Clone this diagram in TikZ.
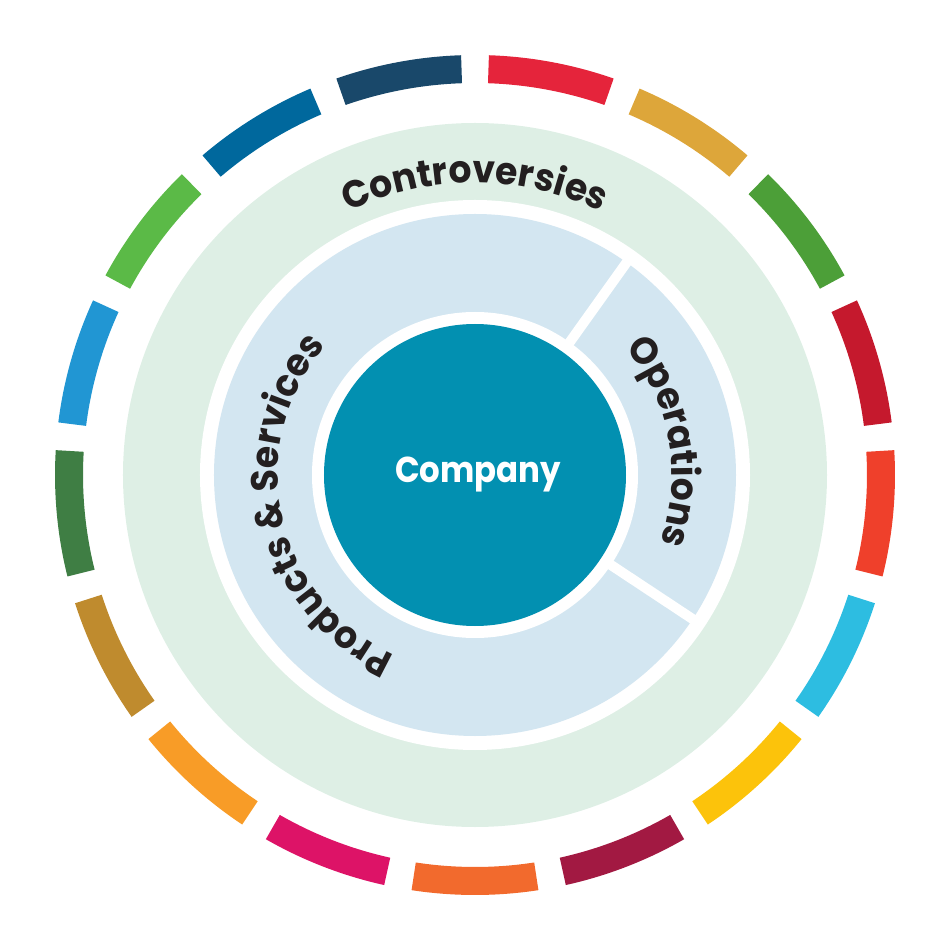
\documentclass[tikz,border=0pt]{standalone}
\usepackage{fontspec}
\setmainfont{Poppins}
\newfontfamily\arcfam{Poppins}[FakeStretch=0.95]
\newfontfamily\cofam{Poppins}[FakeStretch=0.9]
\usetikzlibrary{decorations.text}
\definecolor{ctext}{HTML}{231F20}
\definecolor{cgreen}{HTML}{DEEFE5}
\definecolor{cblue}{HTML}{D3E6F1}
\definecolor{cteal}{HTML}{0290B1}
\definecolor{s1}{HTML}{E5243B}
\definecolor{s2}{HTML}{DDA63A}
\definecolor{s3}{HTML}{4C9F38}
\definecolor{s4}{HTML}{C5192D}
\definecolor{s5}{HTML}{EF402B}
\definecolor{s6}{HTML}{2DBDE1}
\definecolor{s7}{HTML}{FCC30B}
\definecolor{s8}{HTML}{A21942}
\definecolor{s9}{HTML}{F26A2D}
\definecolor{s10}{HTML}{DD1367}
\definecolor{s11}{HTML}{F89C27}
\definecolor{s12}{HTML}{BF8B2E}
\definecolor{s13}{HTML}{3F7E44}
\definecolor{s14}{HTML}{2196D3}
\definecolor{s15}{HTML}{5BBA47}
\definecolor{s16}{HTML}{00689D}
\definecolor{s17}{HTML}{19486A}
\newcommand{\arcfont}{\arcfam\fontsize{38}{40}\selectfont\bfseries}
\tikzset{
  divider/.style={white, line width=10pt},
  arclabel/.style={decorate, decoration={text along path, text align=center, text color=ctext}},
}
\begin{document}
\begin{tikzpicture}
\useasboundingbox (-475pt,-475pt) rectangle (475pt,475pt);
% SDG ring
\foreach \c [count=\k from 0] in {s1,s2,s3,s4,s5,s6,s7,s8,s9,s10,s11,s12,s13,s14,s15,s16,s17}{
  \pgfmathsetmacro{\sa}{90-\k*360/17-1.9}
  \pgfmathsetmacro{\ea}{90-(\k+1)*360/17+1.9}
  \fill[\c] (\sa:420pt) arc[start angle=\sa, end angle=\ea, radius=420pt]
     -- (\ea:392pt) arc[start angle=\ea, end angle=\sa, radius=392pt] -- cycle;
}
% discs
\fill[cgreen] (0,0) circle[radius=352pt];
\fill[white] (0,0) circle[radius=275pt];
\fill[cblue] (0,0) circle[radius=261pt];
\fill[white] (0,0) circle[radius=163pt];
\draw[divider] (54.5:150pt) -- (54.5:266pt);
\draw[divider] (-33.5:150pt) -- (-33.5:266pt);
\fill[cteal] (0,0) circle[radius=151pt];
\node[text=white, font=\cofam\fontsize{36}{38}\selectfont\bfseries, anchor=base, inner sep=0pt] (company) at (3pt,-8pt) {Company};
% arc labels
\path[arclabel, decoration={text={|\arcfont|Controversies}}]
  (160:292pt) arc[start angle=160, end angle=20, radius=292pt];
\path[arclabel, decoration={text={|\arcfont|Operations}}]
  (80:197pt) arc[start angle=80, end angle=-60, radius=197pt];
\path[arclabel, decoration={text={|\arcfont|Products {\&} Services}}]
  (280:197pt) arc[start angle=280, end angle=105, radius=197pt];
\end{tikzpicture}
\end{document}
